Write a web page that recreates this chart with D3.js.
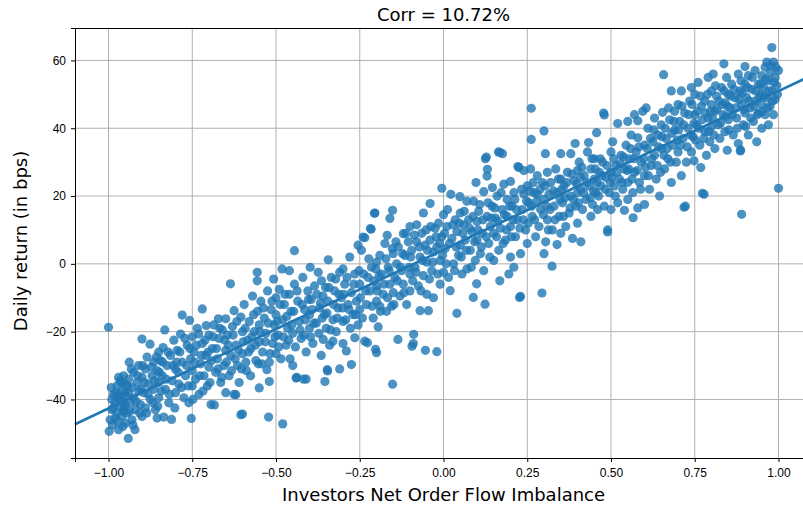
<!DOCTYPE html>
<html lang="en">
<head>
<meta charset="utf-8">
<title>Corr = 10.72%</title>
<style>
  body { margin: 0; background: #fff; }
  svg { font-family: "DejaVu Sans", sans-serif; display: block; }
  .grid line { stroke: #b0b0b0; stroke-width: 1; }
  .axis path { stroke: #000; stroke-width: 1; }
  .axis line { stroke: #000; }
  .axis text { font-size: 12px; fill: #000; }
  .dot { fill: #1f77b4; fill-opacity: 0.8; }
</style>
</head>
<body>
<svg width="803" height="507"></svg>
<script src="https://cdn.jsdelivr.net/npm/d3@7/dist/d3.min.js"></script>
<script>
var title = "Corr = 10.72%";
var xLabel = "Investors Net Order Flow Imbalance";
var yLabel = "Daily return (in bps)";
var xTicks = [-1.0, -0.75, -0.5, -0.25, 0.0, 0.25, 0.5, 0.75, 1.0];
var yTicks = [-40, -20, 0, 20, 40, 60];

// [net order flow imbalance, daily return in bps]
var points = [
  [-1.0,-18.7],[-0.998,-49.4],[-0.995,-46],[-0.99,-43],[-0.99,-40],[-0.985,-38.5],[-0.98,-45.5],[-0.98,-41],[-0.975,-36],[-0.975,-44],[-0.97,-48.9],[-0.97,-39],[-0.965,-42],[-0.965,-34.5],[-0.96,-37.5],[-0.96,-45],[-0.958,-40.5],[-0.955,-33],[-0.955,-43.5],[-0.952,-38],[-0.95,-35.5],[-0.95,-41.5],[-0.95,-47],
  [-0.992,-36.5],[-0.986,-42.5],[-0.978,-38],[-0.972,-46.5],[-0.968,-40],[-0.962,-35],[-0.957,-48],[-0.953,-42.5],[-0.988,-47.5],[-0.97,-33.5],
  [-0.941,-51.5],[-0.945,-44],[-0.94,-38],[-0.94,-34],[-0.935,-41],[-0.93,-36.5],[-0.93,-46],[-0.925,-32],[-0.925,-39.5],[-0.921,-48.9],[-0.92,-43],[-0.915,-35],[-0.91,-37.5],[-0.91,-30],[-0.905,-41.5],[-0.9,-22.2],[-0.9,-33.5],[-0.9,-45],
  [-0.948,-39],[-0.943,-36],[-0.937,-43.5],[-0.932,-31],[-0.927,-47.5],[-0.918,-40.5],[-0.913,-33],[-0.907,-44],[-0.903,-37],[-0.938,-29],
  [-0.895,-38],[-0.89,-31],[-0.89,-42.5],[-0.885,-27.5],[-0.88,-35.5],[-0.876,-23.7],[-0.875,-40],[-0.87,-33],[-0.865,-29],[-0.865,-37],[-0.86,-43],[-0.855,-45.5],[-0.855,-31.5],[-0.85,-26],[-0.85,-35],[-0.85,-39.5],
  [-0.898,-30],[-0.893,-35],[-0.886,-44],[-0.882,-38.5],[-0.872,-30.5],[-0.868,-41],[-0.862,-34.5],[-0.857,-27.5],[-0.853,-42],
  [-0.845,-28.5],[-0.84,-33],[-0.837,-24.7],[-0.835,-45.2],[-0.832,-19.5],[-0.83,-37],[-0.825,-30],[-0.82,-41],[-0.815,-27],[-0.812,-45.9],[-0.81,-34.5],[-0.805,-22.5],[-0.8,-31],[-0.8,-38],
  [-0.848,-32],[-0.842,-37.5],[-0.838,-29],[-0.828,-34],[-0.822,-26],[-0.818,-38.5],[-0.808,-30],[-0.802,-42.5],
  [-0.795,-25.5],[-0.79,-35.5],[-0.785,-20.7],[-0.78,-15.1],[-0.78,-29],[-0.775,-39.5],[-0.77,-33],[-0.765,-24],[-0.76,-41],[-0.758,-16.7],[-0.755,-28],[-0.753,-45.6],[-0.75,-36],[-0.75,-21.5],[-0.75,-31.5],
  [-0.797,-29],[-0.792,-32],[-0.787,-26],[-0.782,-36.5],[-0.772,-22],[-0.767,-30],[-0.762,-36],[-0.757,-25],
  [-0.745,-26],[-0.74,-34],[-0.735,-19],[-0.731,-20.7],[-0.73,-38.5],[-0.725,-29.5],[-0.72,-13.3],[-0.72,-23.5],[-0.715,-33],[-0.71,-27],[-0.708,-18.2],[-0.705,-36],[-0.7,-30.5],[-0.7,-21],
  [-0.748,-40],[-0.743,-29],[-0.738,-24],[-0.728,-33],[-0.723,-27],[-0.718,-37.5],[-0.712,-22.5],[-0.703,-26],
  [-0.694,-41.5],[-0.69,-25],[-0.685,-18],[-0.684,-41.6],[-0.68,-32],[-0.675,-28],[-0.672,-16.2],[-0.67,-22],[-0.665,-35],[-0.66,-19.5],[-0.655,-30],[-0.65,-16.2],[-0.65,-25.5],[-0.65,-38],
  [-0.697,-35],[-0.692,-28.5],[-0.688,-21.5],[-0.678,-25],[-0.673,-31],[-0.668,-19],[-0.662,-33.5],[-0.653,-22.5],
  [-0.645,-21],[-0.64,-33],[-0.636,-5.9],[-0.635,-27],[-0.63,-18.5],[-0.625,-13.8],[-0.625,-38.5],[-0.62,-24],[-0.62,-38.6],[-0.615,-30],[-0.61,-35],[-0.605,-15.7],[-0.605,-44.5],[-0.6,-20],[-0.6,-26.5],[-0.6,-44.3],
  [-0.648,-29],[-0.642,-24],[-0.633,-31.5],[-0.628,-21],[-0.622,-28],[-0.617,-17],[-0.612,-25.5],[-0.603,-31],
  [-0.595,-12],[-0.59,-29],[-0.585,-22.5],[-0.58,-17],[-0.576,-33],[-0.575,-25],[-0.57,-9.5],[-0.565,-20],[-0.56,-28.5],[-0.556,-2.5],[-0.556,-5],[-0.555,-14],[-0.55,-36.6],[-0.55,-23],[-0.55,-18],
  [-0.598,-23],[-0.592,-19],[-0.588,-31.5],[-0.582,-26],[-0.572,-21.5],[-0.567,-15],[-0.562,-24],[-0.553,-29.5],
  [-0.545,-11],[-0.54,-26],[-0.535,-16],[-0.53,-20.5],[-0.527,-31.2],[-0.525,-8],[-0.522,-45.2],[-0.52,-34.7],[-0.52,-29],[-0.515,-13.5],[-0.51,-23.5],[-0.507,-4.5],[-0.505,-18],[-0.5,-10],[-0.5,-26.5],[-0.5,-15],
  [-0.548,-20],[-0.543,-29.5],[-0.538,-13],[-0.532,-23],[-0.523,-17.5],[-0.518,-26.5],[-0.512,-11],[-0.503,-21.5],
  [-0.495,-21],[-0.49,-7.5],[-0.485,-28],[-0.482,-1.5],[-0.48,-47.2],[-0.48,-16.5],[-0.475,-12],[-0.47,-24],[-0.465,-19],[-0.46,-2],[-0.46,-9],[-0.458,-28],[-0.455,-14],[-0.45,-30],[-0.45,-20.5],[-0.445,3.9],
  [-0.497,-17],[-0.492,-24.5],[-0.487,-12],[-0.478,-21.5],[-0.473,-9],[-0.468,-15.5],[-0.462,-22.5],[-0.453,-18],
  [-0.445,-6],[-0.44,-33.7],[-0.438,-33.5],[-0.435,-11],[-0.43,-17],[-0.425,-22],[-0.42,-4],[-0.418,-34],[-0.415,-13.5],[-0.41,-34],[-0.41,-26],[-0.405,-8],[-0.4,-19],[-0.398,-1],[-0.4,-15],
  [-0.447,-14],[-0.442,-24.5],[-0.437,-8],[-0.428,-19.5],[-0.422,-12],[-0.417,-21],[-0.412,-16.5],[-0.403,-10.5],
  [-0.395,-10.5],[-0.39,-23.5],[-0.385,-6.5],[-0.38,-17.5],[-0.374,-2.5],[-0.37,-13],[-0.365,-27],[-0.364,-5],[-0.36,-9.5],[-0.359,-22.3],[-0.355,-15],[-0.354,-34.7],[-0.35,-19],[-0.347,-31.2],[-0.346,-31.6],[-0.344,1.2],
  [-0.397,-21.5],[-0.392,-13.5],[-0.387,-17.5],[-0.378,-9],[-0.372,-20.5],[-0.367,-11.5],[-0.362,-16],[-0.352,-7],
  [-0.345,-11],[-0.34,-24],[-0.335,-4],[-0.33,-16.5],[-0.33,-22.8],[-0.325,-8],[-0.32,-20],[-0.315,-13],[-0.31,-31],[-0.31,-2.5],[-0.305,-10],[-0.3,-1.5],[-0.3,-17],[-0.3,-23.5],
  [-0.348,-14.5],[-0.342,-7],[-0.337,-19.5],[-0.328,-12],[-0.322,-4.5],[-0.317,-16],[-0.312,-9],[-0.302,-13],
  [-0.295,-6],[-0.29,-25.7],[-0.285,-12],[-0.28,2],[-0.275,-29.7],[-0.275,-8.5],[-0.27,-15],[-0.265,-21.8],[-0.265,-3],[-0.26,-11],[-0.255,5.5],[-0.255,-18],[-0.25,-6],[-0.25,-13.5],
  [-0.298,-9],[-0.292,-16.5],[-0.288,-4],[-0.282,-13.5],[-0.278,-19],[-0.268,-6],[-0.262,-15],[-0.252,-2],
  [-0.245,4],[-0.24,7.9],[-0.235,7.7],[-0.235,-22.8],[-0.23,-12],[-0.227,-23.3],[-0.225,-4],[-0.22,-8],[-0.218,10.4],[-0.216,10.2],[-0.215,-1],[-0.21,-16],[-0.206,14.9],[-0.205,15],[-0.203,-25.2],[-0.2,0.5],[-0.2,-26.2],[-0.2,-6.5],[-0.2,-11],
  [-0.248,-10],[-0.242,-16],[-0.238,-3],[-0.232,-8],[-0.223,1.5],[-0.213,-12.5],[-0.208,-5],[-0.202,-1.5],
  [-0.195,-18.6],[-0.19,-12.5],[-0.19,2.5],[-0.185,-3],[-0.18,-9],[-0.175,6],[-0.17,-14],[-0.168,8.4],[-0.165,-1],[-0.16,13.4],[-0.16,-6],[-0.155,-12.5],[-0.152,15.8],[-0.152,-35.5],[-0.15,3],[-0.15,-8.5],
  [-0.198,-8],[-0.192,-3.5],[-0.188,-14],[-0.178,-6],[-0.172,1.5],[-0.167,-10],[-0.162,-2],[-0.153,4.5],
  [-0.145,-4],[-0.14,0],[-0.136,-22.3],[-0.135,5],[-0.13,-9.5],[-0.125,-2],[-0.12,8.9],[-0.12,-6],[-0.115,2.5],[-0.11,-12],[-0.105,6.5],[-0.1,-3],[-0.1,11],[-0.1,-8],
  [-0.148,-12],[-0.142,6.5],[-0.138,-5],[-0.128,-1],[-0.122,3],[-0.118,-8.5],[-0.112,9],[-0.103,-1],
  [-0.095,4],[-0.094,-24.3],[-0.09,-23.5],[-0.089,-20.8],[-0.085,-1],[-0.08,11.5],[-0.08,6.5],[-0.075,-6.5],[-0.07,-13.8],[-0.07,2],[-0.065,9],[-0.06,15],[-0.06,-3.5],[-0.055,5.5],[-0.054,-25.5],[-0.05,-9],[-0.05,0.5],
  [-0.098,2],[-0.092,-5],[-0.087,8.5],[-0.082,-2.5],[-0.072,5],[-0.067,-8],[-0.062,1],[-0.052,10],
  [-0.045,-13.8],[-0.04,17.8],[-0.04,7],[-0.035,-2],[-0.03,-10],[-0.03,3.5],[-0.025,10.5],[-0.02,-25.9],[-0.02,5],[-0.015,12],[-0.01,-6],[-0.01,1],[-0.005,22.3],[-0.005,8],[0.0,-2.5],[0.0,14.5],
  [-0.048,4],[-0.042,-4.5],[-0.038,11],[-0.032,0.5],[-0.022,8],[-0.017,-3],[-0.012,6],[-0.003,2.5],
  [0.005,4.5],[0.01,11],[0.015,-4],[0.02,-7.9],[0.022,20.5],[0.025,7.5],[0.03,0],[0.035,13],[0.04,-14.6],[0.04,9.5],[0.045,2.5],[0.049,19.8],[0.05,5.5],[0.05,15],
  [0.003,9],[0.008,0],[0.012,16],[0.018,6],[0.028,11.5],[0.033,-2],[0.038,5],[0.047,12],
  [0.055,-3],[0.06,11.5],[0.065,7],[0.07,18.5],[0.07,-1.5],[0.075,13],[0.08,4],[0.085,9.5],[0.089,-9.9],[0.09,18.5],[0.095,1],[0.097,24],[0.099,-5.9],[0.1,12.5],[0.1,7],
  [0.053,2],[0.058,9],[0.062,15.5],[0.068,4],[0.078,10.5],[0.083,-1],[0.088,14],[0.093,6.5],
  [0.105,15.5],[0.11,3],[0.115,9],[0.12,21.3],[0.12,-2],[0.124,-11.9],[0.125,31],[0.128,31.5],[0.13,25.9],[0.13,14],[0.131,27.9],[0.135,6],[0.14,11],[0.146,22.5],[0.145,17],[0.15,9],[0.15,1],
  [0.103,10],[0.108,17.5],[0.113,5],[0.118,13],[0.128,8],[0.133,18],[0.138,2],[0.143,13.5],
  [0.155,13.5],[0.16,20],[0.164,33],[0.165,4],[0.168,32.9],[0.168,-5],[0.17,10.5],[0.175,16],[0.176,32.5],[0.18,23.5],[0.185,7],[0.19,14],[0.19,19],[0.195,-3],[0.2,24.3],[0.2,11],[0.2,2],
  [0.153,16.5],[0.158,8],[0.162,12.5],[0.172,21],[0.178,6],[0.182,14.5],[0.188,10],[0.197,17],
  [0.205,17],[0.21,21],[0.21,-1],[0.215,8],[0.22,13],[0.222,28.7],[0.225,28.4],[0.227,-9.9],[0.23,-9.6],[0.23,3],[0.235,16],[0.24,27.5],[0.24,20.5],[0.245,10],[0.25,23],[0.25,6],
  [0.203,8],[0.208,13],[0.213,19],[0.218,16],[0.228,10.5],[0.233,22],[0.238,13],[0.248,18.5],
  [0.255,18],[0.26,28],[0.262,45.9],[0.262,36.7],[0.265,14],[0.27,21],[0.275,8],[0.28,20.5],[0.28,26],[0.285,11],[0.29,16],[0.294,-8.6],[0.295,24],[0.3,39.2],[0.3,19],[0.3,3],
  [0.253,12],[0.258,21.5],[0.263,17],[0.268,24],[0.272,13],[0.278,18.5],[0.288,22],[0.298,14.5],
  [0.304,32.5],[0.305,6.5],[0.31,27],[0.31,13],[0.315,20.5],[0.32,24],[0.324,-0.7],[0.325,10],[0.33,17],[0.335,28],[0.339,5.7],[0.34,21],[0.345,14],[0.35,32.5],[0.35,25],[0.35,9],
  [0.303,23],[0.308,17],[0.313,10],[0.318,16],[0.328,21.5],[0.333,13],[0.343,25],[0.348,19],
  [0.355,18],[0.36,23],[0.365,11],[0.37,27],[0.375,15],[0.38,32.5],[0.38,20],[0.385,7.5],[0.39,24.5],[0.393,35.5],[0.395,17],[0.4,12],[0.4,27.5],[0.4,21],
  [0.353,22],[0.358,14],[0.363,19.5],[0.368,24],[0.378,16.5],[0.383,26.5],[0.388,19],[0.398,23.5],
  [0.405,30],[0.41,6.5],[0.41,22],[0.415,16],[0.42,26],[0.425,19],[0.43,33],[0.433,35.8],[0.435,23],[0.44,14],[0.44,28],[0.445,17.5],[0.45,25],[0.45,31],
  [0.403,18],[0.408,25.5],[0.413,28.5],[0.418,21],[0.428,24],[0.438,19.5],[0.443,31],[0.448,21.5],
  [0.455,21],[0.457,38.7],[0.46,16],[0.465,27],[0.47,23],[0.475,30],[0.478,44.5],[0.48,43.9],[0.48,17],[0.485,25.5],[0.49,10],[0.49,9.4],[0.495,21],[0.5,33],[0.5,27],[0.5,16],
  [0.453,28],[0.458,24],[0.463,20],[0.468,31],[0.473,26],[0.483,22],[0.488,29],[0.498,24],
  [0.505,36],[0.51,23],[0.515,29],[0.52,41.4],[0.52,18],[0.525,25],[0.53,32],[0.535,22],[0.54,15.8],[0.54,28],[0.545,35],[0.55,42],[0.55,24],[0.55,19],
  [0.503,25.5],[0.508,31],[0.513,20],[0.518,27],[0.528,29.5],[0.533,24],[0.538,31.5],[0.548,27.5],
  [0.555,31],[0.56,38],[0.565,21],[0.566,13.6],[0.57,44],[0.57,27],[0.575,33],[0.58,42.2],[0.58,37.2],[0.58,16.5],[0.585,24],[0.59,30],[0.595,45],[0.6,17.5],[0.6,35],[0.6,26],[0.605,46],
  [0.553,28],[0.558,34],[0.563,25],[0.568,31],[0.578,27.5],[0.583,34.5],[0.588,22],[0.598,31],
  [0.61,40],[0.615,22],[0.62,29],[0.625,36],[0.63,32],[0.63,43],[0.635,25],[0.64,38],[0.645,20],[0.65,34],[0.65,41],
  [0.603,28.5],[0.608,34],[0.612,26],[0.618,37],[0.622,31],[0.628,39.5],[0.638,29],[0.642,34.5],[0.648,27],
  [0.654,44.7],[0.657,55.8],[0.66,28],[0.665,37],[0.67,31],[0.675,42.5],[0.68,51],[0.68,24],[0.685,35],[0.69,45],[0.69,39.5],[0.695,30],[0.7,47],[0.7,33],
  [0.652,37.5],[0.658,32],[0.662,40],[0.668,34],[0.672,46],[0.678,30],[0.682,38.5],[0.688,42],[0.698,36.5],
  [0.705,42],[0.71,26],[0.71,51],[0.715,37],[0.718,16.7],[0.72,44.5],[0.722,17],[0.725,30],[0.73,40],[0.735,48],[0.74,33],[0.74,52],[0.745,37.5],[0.748,30.4],[0.75,44],[0.75,50],
  [0.702,39.5],[0.708,35],[0.712,46.5],[0.717,41],[0.728,34.5],[0.732,44],[0.738,38],[0.742,47],[0.748,41.5],
  [0.755,41],[0.76,53.5],[0.765,35],[0.768,28.4],[0.77,46.5],[0.773,20.8],[0.778,20.5],[0.78,39],[0.78,48],[0.785,32],[0.79,55],[0.79,43],[0.795,36],[0.8,47],[0.8,51],[0.8,40.5],
  [0.752,36.5],[0.758,45],[0.762,40],[0.767,49.5],[0.772,42.5],[0.777,37],[0.782,44.5],[0.788,50],[0.792,39],[0.797,45],
  [0.805,56],[0.81,34],[0.81,45],[0.815,49.5],[0.82,41],[0.825,37],[0.83,52],[0.835,44],[0.837,59],[0.84,47.5],[0.84,39],[0.845,55],[0.847,33.5],[0.85,42.5],[0.85,50],
  [0.803,43],[0.807,38],[0.812,52.5],[0.817,45.5],[0.822,48],[0.827,41.5],[0.832,47],[0.838,51],[0.842,43.5],[0.848,46.5],
  [0.855,46],[0.86,53],[0.865,38],[0.87,49],[0.875,43],[0.88,56],[0.88,35.5],[0.885,51],[0.886,33.3],[0.887,33.6],[0.89,14.6],[0.89,47],[0.895,41],[0.9,58.2],[0.9,53],[0.9,44.5],
  [0.852,39.5],[0.857,49.5],[0.862,44],[0.867,51.5],[0.872,46],[0.877,40],[0.882,48.5],[0.888,54],[0.892,50.5],[0.897,45.5],
  [0.905,49],[0.91,55.5],[0.91,38],[0.915,46],[0.92,51.5],[0.925,42],[0.93,57],[0.93,48],[0.935,36],[0.94,53],[0.94,44.5],[0.945,50],[0.95,40],[0.95,55.5],[0.95,47],
  [0.902,40.5],[0.907,52],[0.912,48],[0.917,43],[0.922,55],[0.927,46.5],[0.932,51],[0.937,44],[0.942,49],[0.947,53],
  [0.955,52],[0.96,58],[0.96,44],[0.965,59.5],[0.965,49],[0.97,54],[0.97,41],[0.975,56.5],[0.975,46.5],[0.98,63.8],[0.98,51],[0.985,59.5],[0.985,44],[0.99,55],[0.99,48.5],[0.995,52.5],[1.0,22.3],[1.0,57],
  [0.952,45],[0.957,49.5],[0.962,54.5],[0.967,46],[0.972,51],[0.977,58.5],[0.982,48],[0.987,53.5],[0.992,58],[0.997,50]
];

var svg = d3.select("svg"),
    margin = {top: 28, right: -9, bottom: 49, left: 75},
    width = +svg.attr("width") - margin.left - margin.right,
    height = +svg.attr("height") - margin.top - margin.bottom;

// matplotlib style 5% margins
var xe = d3.extent(points, function(d) { return d[0]; }),
    ye = d3.extent(points, function(d) { return d[1]; }),
    xm = (xe[1] - xe[0]) * 0.05,
    ym = (ye[1] - ye[0]) * 0.05;

var x = d3.scaleLinear().domain([xe[0] - xm, xe[1] + xm]).range([0, width]),
    y = d3.scaleLinear().domain([ye[0] - ym, ye[1] + ym]).range([height, 0]);

var g = svg.append("g")
    .attr("transform", "translate(" + margin.left + "," + margin.top + ")");

var fmtX = function(d) { return d3.format(".2f")(d).replace("-", "\u2212"); },
    fmtY = function(d) { return String(d).replace("-", "\u2212"); };

// grid
g.append("g").attr("class", "grid")
  .selectAll("line").data(xTicks).enter().append("line")
    .attr("x1", function(d) { return x(d); }).attr("x2", function(d) { return x(d); })
    .attr("y1", 0).attr("y2", height);
g.append("g").attr("class", "grid")
  .selectAll("line").data(yTicks).enter().append("line")
    .attr("x1", 0).attr("x2", width)
    .attr("y1", function(d) { return y(d); }).attr("y2", function(d) { return y(d); });

// scatter
g.append("g").selectAll(".dot")
  .data(points)
  .enter().append("circle")
    .attr("class", "dot")
    .attr("cx", function(d) { return x(d[0]); })
    .attr("cy", function(d) { return y(d[1]); })
    .attr("r", 4.6);

// least squares fit, drawn across the whole axes
var mx = d3.mean(points, function(d) { return d[0]; }),
    my = d3.mean(points, function(d) { return d[1]; }),
    sxy = d3.sum(points, function(d) { return (d[0] - mx) * (d[1] - my); }),
    sxx = d3.sum(points, function(d) { return (d[0] - mx) * (d[0] - mx); }),
    slope = sxy / sxx,
    icpt = my - slope * mx;

var xs = x.domain();
g.append("path")
    .datum(xs.map(function(v) { return [v, icpt + slope * v]; }))
    .attr("fill", "none")
    .attr("stroke", "#1f77b4")
    .attr("stroke-width", 2.6)
    .attr("d", d3.line().x(function(d) { return x(d[0]); }).y(function(d) { return y(d[1]); }));

// axes
g.append("g").attr("class", "axis")
    .attr("transform", "translate(0," + height + ")")
    .call(d3.axisBottom(x).tickValues(xTicks).tickSize(4).tickPadding(6).tickFormat(fmtX));
g.append("g").attr("class", "axis")
    .call(d3.axisLeft(y).tickValues(yTicks).tickSize(4).tickPadding(5).tickFormat(fmtY));
g.append("g").attr("class", "axis")
    .call(d3.axisTop(x).tickValues([]).tickSizeOuter(0));
g.append("g").attr("class", "axis")
    .attr("transform", "translate(" + width + ",0)")
    .call(d3.axisRight(y).tickValues([]).tickSizeOuter(0));

// labels
svg.append("text")
    .attr("x", margin.left + width / 2).attr("y", 21)
    .attr("text-anchor", "middle").style("font-size", "18px")
    .text(title);
svg.append("text")
    .attr("x", margin.left + width / 2).attr("y", 501)
    .attr("text-anchor", "middle").style("font-size", "18px")
    .text(xLabel);
svg.append("text")
    .attr("transform", "translate(27,241) rotate(-90)")
    .attr("text-anchor", "middle").style("font-size", "18px")
    .text(yLabel);
</script>
</body>
</html>
